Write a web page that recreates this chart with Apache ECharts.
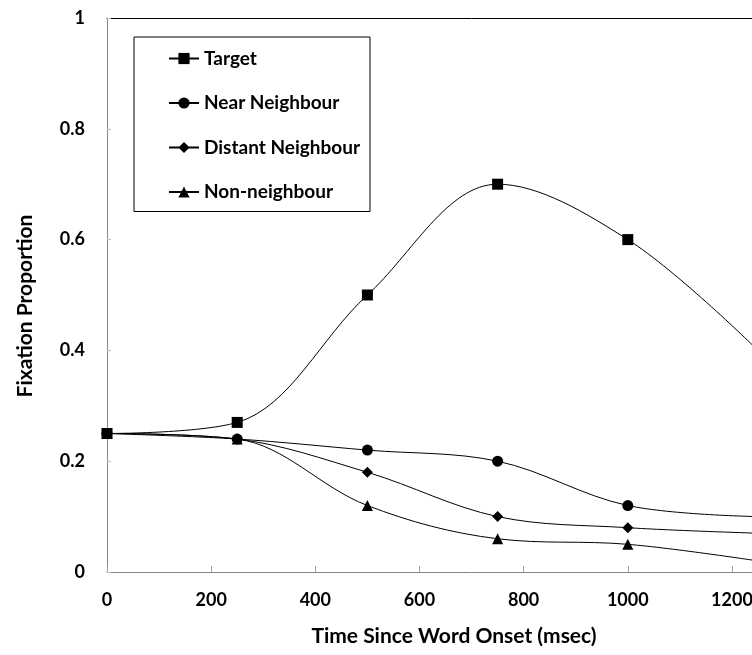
<!DOCTYPE html>
<html><head><meta charset="utf-8">
<script src="https://cdn.jsdelivr.net/npm/echarts@6/dist/echarts.min.js"></script>
<style>html,body{margin:0;padding:0;background:#fff;overflow:hidden}#c{width:860px;height:655px}</style>
</head><body><div id="c"></div>
<script>
const times = [0, 250, 500, 750, 1000, 1250];
const target = [0.25, 0.27, 0.50, 0.70, 0.60, 0.40];
const nearNeighbour = [0.25, 0.24, 0.22, 0.20, 0.12, 0.10];
const distantNeighbour = [0.25, 0.24, 0.18, 0.10, 0.08, 0.07];
const nonNeighbour = [0.25, 0.24, 0.12, 0.06, 0.05, 0.02];
const seriesNames = ['Target', 'Near Neighbour', 'Distant Neighbour', 'Non-neighbour'];
const xTitle = 'Time Since Word Onset (msec)';
const yTitle = 'Fixation Proportion';

const FONT = 'Lato, Carlito, "Open Sans", sans-serif';
const chart = echarts.init(document.getElementById('c'), null, {renderer: 'canvas'});
function mk(name, vals, symbol, size) {
  return {
    name, type: 'line', smooth: 0.35, symbol, symbolSize: size,
    data: times.map((t, i) => [t, vals[i]]),
    lineStyle: {color: '#000', width: 1},
    itemStyle: {color: '#000'},
    emphasis: {disabled: true}, animation: false, z: 3
  };
}
chart.setOption({
  animation: false,
  grid: {left: 107, top: 18, bottom: 83, width: 735},
  legend: {
    orient: 'vertical', left: 134, top: 37,
    padding: [12, 10, 10, 34],
    borderColor: '#000', borderWidth: 1,
    itemWidth: 30, itemHeight: 14, itemGap: 25.5,
    textStyle: {fontFamily: FONT, fontWeight: 'bold', fontSize: 19, color: '#000'},
    data: seriesNames
  },
  xAxis: [{
    type: 'value', min: 0, max: 1400, interval: 200,
    axisLine: {lineStyle: {color: '#868686'}},
    axisTick: {inside: true, length: 6, lineStyle: {color: '#a0a0a0'}},
    splitLine: {show: false},
    axisLabel: {margin: 19, fontFamily: FONT, fontWeight: 'bold', fontSize: 18, color: '#000',
      formatter: v => String(v)}
  }, {
    type: 'value', min: 0, max: 1400, position: 'top',
    axisLine: {show: true, lineStyle: {color: '#000'}},
    axisTick: {show: false}, axisLabel: {show: false}, splitLine: {show: false}
  }],
  yAxis: {
    type: 'value', min: 0, max: 1, interval: 0.2,
    axisLine: {show: true, lineStyle: {color: '#868686'}},
    axisTick: {show: true, inside: true, length: 4, lineStyle: {color: '#c0c0c0'}},
    splitLine: {show: false},
    axisLabel: {margin: 22, fontFamily: FONT, fontWeight: 'bold', fontSize: 18, color: '#000',
      formatter: v => String(+v.toFixed(1))}
  },
  graphic: [
    {type: 'text', x: 454, y: 636, style: {text: xTitle, align: 'center', verticalAlign: 'middle',
      font: 'bold 21px ' + FONT, fill: '#000'}},
    {type: 'text', x: 25, y: 306, rotation: Math.PI / 2,
      style: {text: yTitle, align: 'center', verticalAlign: 'middle', font: 'bold 21px ' + FONT, fill: '#000'}}
  ],
  series: [
    mk(seriesNames[0], target, 'rect', 11),
    mk(seriesNames[1], nearNeighbour, 'circle', 11),
    mk(seriesNames[2], distantNeighbour, 'diamond', 11),
    mk(seriesNames[3], nonNeighbour, 'triangle', 11)
  ]
});
</script></body></html>
